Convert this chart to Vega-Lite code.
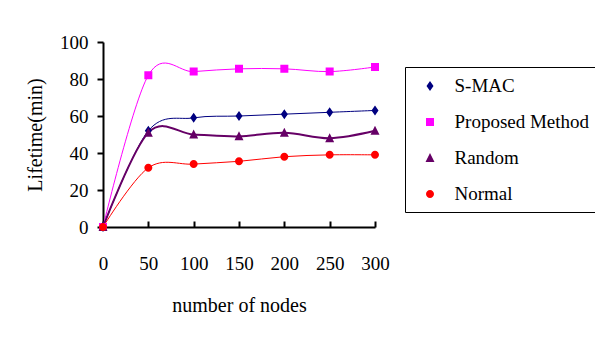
{
  "$schema": "https://vega.github.io/schema/vega-lite/v6.json",
  "width": 272,
  "height": 185,
  "padding": {"left": 25, "top": 33, "right": 0, "bottom": 0},
  "background": "white",
  "config": {
    "view": {"stroke": null},
    "font": "Liberation Serif",
    "axis": {"grid": false, "domainColor": "black", "domainWidth": 2, "tickColor": "black", "tickWidth": 2, "labelColor": "black", "titleColor": "black", "labelFont": "Liberation Serif", "titleFont": "Liberation Serif", "labelFontSize": 19, "titleFontSize": 20, "titleFontWeight": "normal", "labelFlush": false, "labelOverlap": false},
    "legend": {"labelFont": "Liberation Serif"}
  },
  "data": {"values": [
    {"n": 0, "series": "S-MAC", "v": 0},
    {"n": 50, "series": "S-MAC", "v": 52},
    {"n": 100, "series": "S-MAC", "v": 59},
    {"n": 150, "series": "S-MAC", "v": 60},
    {"n": 200, "series": "S-MAC", "v": 61},
    {"n": 250, "series": "S-MAC", "v": 62},
    {"n": 300, "series": "S-MAC", "v": 63},
    {"n": 0, "series": "Proposed Method", "v": 0},
    {"n": 50, "series": "Proposed Method", "v": 82},
    {"n": 100, "series": "Proposed Method", "v": 84},
    {"n": 150, "series": "Proposed Method", "v": 85.5},
    {"n": 200, "series": "Proposed Method", "v": 85.5},
    {"n": 250, "series": "Proposed Method", "v": 84},
    {"n": 300, "series": "Proposed Method", "v": 86.5},
    {"n": 0, "series": "Random", "v": 0},
    {"n": 50, "series": "Random", "v": 51},
    {"n": 100, "series": "Random", "v": 50},
    {"n": 150, "series": "Random", "v": 49},
    {"n": 200, "series": "Random", "v": 51},
    {"n": 250, "series": "Random", "v": 48},
    {"n": 300, "series": "Random", "v": 52},
    {"n": 0, "series": "Normal", "v": 0},
    {"n": 50, "series": "Normal", "v": 32},
    {"n": 100, "series": "Normal", "v": 34},
    {"n": 150, "series": "Normal", "v": 35.5},
    {"n": 200, "series": "Normal", "v": 38},
    {"n": 250, "series": "Normal", "v": 39},
    {"n": 300, "series": "Normal", "v": 39}
  ]},
  "encoding": {
    "x": {"field": "n", "type": "quantitative", "scale": {"domain": [0, 300], "nice": false},
      "axis": {"title": "number of nodes", "values": [0, 50, 100, 150, 200, 250, 300], "tickSize": -6, "labelPadding": 33, "titlePadding": 22}},
    "y": {"field": "v", "type": "quantitative", "scale": {"domain": [0, 100], "nice": false},
      "axis": {"title": "Lifetime(min)", "values": [0, 20, 40, 60, 80, 100], "tickSize": 6, "labelPadding": 9, "titlePadding": 14}}
  },
  "layer": [
    {
      "mark": {"type": "line", "interpolate": "cardinal"},
      "encoding": {
        "stroke": {"field": "series", "type": "nominal", "legend": null,
          "scale": {"domain": ["Normal", "Random", "Proposed Method", "S-MAC"], "range": ["#FF0000", "#660066", "#FF00FF", "#000080"]}},
        "strokeWidth": {"condition": {"test": "datum.series === 'Random'", "value": 2}, "value": 1}
      }
    },
    {
      "mark": {"type": "point", "filled": true, "size": 400, "opacity": 1, "strokeWidth": 0},
      "encoding": {
        "color": {"field": "series", "type": "nominal",
          "scale": {"domain": ["S-MAC", "Proposed Method", "Random", "Normal"], "range": ["#000080", "#FF00FF", "#660066", "#FF0000"]}},
        "shape": {"field": "series", "type": "nominal",
          "scale": {"domain": ["S-MAC", "Proposed Method", "Random", "Normal"], "range": [
            "M-1.65,0H1.65M0,-0.5L0.35,0L0,0.5L-0.35,0Z",
            "M-1.65,0H1.65M-0.4,-0.4H0.4V0.4H-0.4Z",
            "M-1.65,0H1.65M0,-0.5L0.45,0.4H-0.45Z",
            "M-1.65,0H1.65M-0.4,0A0.4,0.4,0,1,0,0.4,0A0.4,0.4,0,1,0,-0.4,0Z"
          ]},
          "legend": {
            "title": null,
            "orient": "none", "legendX": 302, "legendY": 25,
            "padding": 8, "symbolSize": 400, "symbolOffset": 6, "labelOffset": 13.5, "rowPadding": 15,
            "labelFontSize": 19, "labelColor": "black", "labelLimit": 300,
            "strokeColor": "black", "fillColor": "white",
            "encode": {
              "legend": {"strokeWidth": {"value": 2}},
              "symbols": {
                "stroke": {"condition": [
                  {"test": "datum.value === 'S-MAC'", "value": "#000080"},
                  {"test": "datum.value === 'Proposed Method'", "value": "#FF00FF"},
                  {"test": "datum.value === 'Random'", "value": "#660066"}
                ], "value": "#FF0000"},
                "strokeWidth": {"condition": {"test": "datum.value === 'Random'", "value": 3}, "value": 1.2}
              }
            }
          }
        }
      }
    }
  ]
}
